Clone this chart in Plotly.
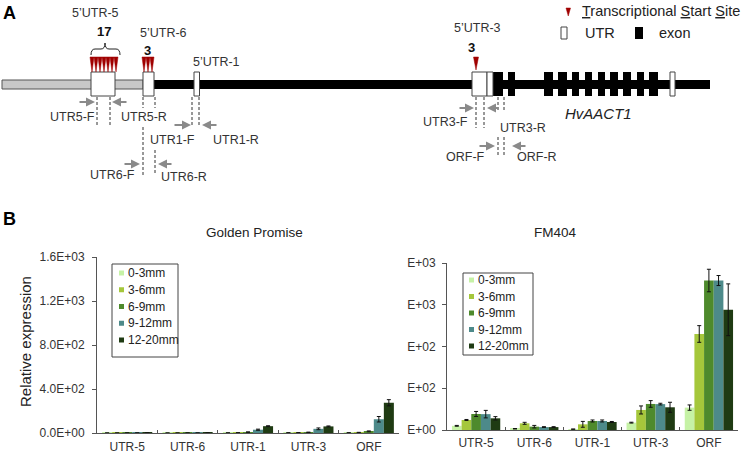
import plotly.graph_objects as go

FONT = "Liberation Sans, Arial, sans-serif"

# ---------------- Panel B data ----------------
categories = ["UTR-5", "UTR-6", "UTR-1", "UTR-3", "ORF"]
series_names = ["0-3mm", "3-6mm", "6-9mm", "9-12mm", "12-20mm"]
series_colors = ["#c6f2a6", "#a5c73b", "#4e8a2c", "#4d8a8a", "#1f3b13"]

# Golden Promise
gp_0_3 = [0.3, 0.2, 1, 2, 2]
gp_3_6 = [0.3, 0.3, 2, 3, 4]
gp_6_9 = [0.5, 0.4, 8, 6, 15]
gp_9_12 = [0.5, 0.3, 30, 38, 125]
gp_12_20 = [0.8, 0.5, 62, 60, 275]
gp_err_0_3 = [None, None, None, None, None]
gp_err_3_6 = [None, None, None, None, 2]
gp_err_6_9 = [None, None, 2, 2, 4]
gp_err_9_12 = [None, None, 5, 8, 25]
gp_err_12_20 = [None, None, 4, 4, 28]

# FM404
fm_0_3 = [50, 15, 10, 88, 268]
fm_3_6 = [120, 80, 68, 240, 1150]
fm_6_9 = [192, 40, 108, 312, 1790]
fm_9_12 = [190, 35, 108, 310, 1790]
fm_12_20 = [140, 35, 96, 272, 1440]
fm_err_0_3 = [5, 3, 2, 5, 32]
fm_err_3_6 = [6, 12, 35, 48, 100]
fm_err_6_9 = [30, 15, 12, 40, 135]
fm_err_9_12 = [45, 5, 12, 10, 60]
fm_err_12_20 = [20, 5, 6, 60, 310]

gp_yticks = [0, 400, 800, 1200, 1600]
gp_yticklabels = ["0.0E+00", "4.0E+02", "8.0E+02", "1.2E+03", "1.6E+03"]
fm_yticks = [0, 500, 1000, 1500, 2000]
fm_yticklabels = ["E+00", "E+02", "E+02", "E+03", "E+03"]

gp_series = [gp_0_3, gp_3_6, gp_6_9, gp_9_12, gp_12_20]
gp_errors = [gp_err_0_3, gp_err_3_6, gp_err_6_9, gp_err_9_12, gp_err_12_20]
fm_series = [fm_0_3, fm_3_6, fm_6_9, fm_9_12, fm_12_20]
fm_errors = [fm_err_0_3, fm_err_3_6, fm_err_6_9, fm_err_9_12, fm_err_12_20]

# ---------------- Panel A gene structure (diagram units) ----------------
upstream_gray = [2, 143]
gene_line = [154, 710]
line_y = [80, 89]
box_y = [72, 96]
utr_boxes = [[91, 115], [143, 154], [194, 199.5], [472, 487], [487, 493], [670, 675]]
exons = [[493, 503], [508, 515], [544, 553], [558, 567], [572, 579], [585, 592],
         [598, 605], [610, 618], [623, 631], [637, 644], [649, 658]]
# TSS clusters: (left x, number of sites, width of each, top y, tip y)
tss_clusters = [(90, 7, 4, 57, 72), (142, 3, 4, 57, 72), (473.5, 1, 5, 57, 70)]
utr_labels = [("5’UTR-5", 95, 13), ("5’UTR-6", 163, 33), ("5’UTR-1", 216, 62), ("5’UTR-3", 477, 28)]
tss_counts = [("17", 104, 31), ("3", 147, 50), ("3", 471.5, 47)]
# primers: (name, tail x, head x, arrow y, label x, label y)
primers = [
    ("UTR5-F", 78, 95, 102, 72, 117),
    ("UTR5-R", 128, 112, 102, 144, 117),
    ("UTR1-F", 173, 191, 125, 172, 140),
    ("UTR1-R", 218, 202, 125, 236, 140),
    ("UTR6-F", 123, 140, 164, 112, 175),
    ("UTR6-R", 173, 158, 164, 184, 177),
    ("UTR3-F", 458, 474, 108, 445, 122),
    ("UTR3-R", 500, 487, 108, 523, 128),
    ("ORF-F", 478, 495, 146, 465, 157),
    ("ORF-R", 527, 512, 146, 537, 157),
]
# dashed guide segments: (x, y0, y1)
dashed = [
    (97, 97, 127), (110, 97, 127),
    (143, 97, 108), (143, 127, 175), (155, 97, 108), (155, 150, 175),
    (192, 97, 127), (199, 97, 127),
    (476, 97, 128), (484, 97, 128),
    (498, 97, 110), (498, 137, 157), (504, 97, 110), (504, 137, 157),
]

fig = go.Figure()

# ---- bars ----
for i in range(5):
    fig.add_trace(go.Bar(
        x=categories, y=gp_series[i], name=series_names[i],
        marker=dict(color=series_colors[i], line=dict(width=0)),
        error_y=dict(type="data", array=gp_errors[i], visible=True,
                     color="#111", thickness=1, width=2),
        xaxis="x", yaxis="y", showlegend=False))
for i in range(5):
    fig.add_trace(go.Bar(
        x=categories, y=fm_series[i], name=series_names[i],
        marker=dict(color=series_colors[i], line=dict(width=0)),
        error_y=dict(type="data", array=fm_errors[i], visible=True,
                     color="#111", thickness=1, width=2),
        xaxis="x2", yaxis="y2", showlegend=False))

# dummy trace for the diagram frame
fig.add_trace(go.Scatter(x=[0], y=[0], xaxis="x3", yaxis="y3", mode="markers",
                         marker=dict(size=0.1, color="rgba(0,0,0,0)"),
                         showlegend=False, hoverinfo="skip"))

shapes = []
ann = []

def S(**kw):
    d = dict(xref="x3", yref="y3")
    d.update(kw)
    shapes.append(d)

def T(text, x, y, size=12.5, color="#333", xanchor="center", **kw):
    d = dict(xref="x3", yref="y3", x=x, y=y, text=text, showarrow=False,
             font=dict(family=FONT, size=size, color=color),
             xanchor=xanchor, yanchor="middle")
    d.update(kw)
    ann.append(d)

# gene line
S(type="rect", x0=upstream_gray[0], x1=upstream_gray[1], y0=line_y[0], y1=line_y[1],
  fillcolor="#c8c8c8", line=dict(color="#555", width=1))
S(type="rect", x0=gene_line[0], x1=gene_line[1], y0=line_y[0], y1=line_y[1],
  fillcolor="#000", line=dict(color="#000", width=0))
for a, b in exons:
    S(type="rect", x0=a, x1=b, y0=box_y[0], y1=box_y[1], fillcolor="#000",
      line=dict(color="#000", width=0))
for a, b in utr_boxes:
    S(type="rect", x0=a, x1=b, y0=box_y[0], y1=box_y[1], fillcolor="#fff",
      line=dict(color="#444", width=1))

# TSS triangles
for x0, n, w, ytop, ytip in tss_clusters:
    p = ""
    for k in range(n):
        xa = x0 + k * w
        p += f"M{xa},{ytop} L{xa + w},{ytop} L{xa + w / 2},{ytip} Z "
    S(type="path", path=p, fillcolor="#a00000", line=dict(color="#a00000", width=0.5))

# brace above 5'UTR-5
S(type="path",
  path="M91,55 Q91,49 95,49 L101,49 Q105,49 105,43 Q105,49 109,49 L116,49 Q120,49 120,55",
  line=dict(color="#222", width=1))

for txt, x, y in utr_labels:
    T(txt, x, y, size=12.5)
for txt, x, y in tss_counts:
    T(f"<b>{txt}</b>", x, y, size=13, color="#111")

# dashed lines
for x, y0, y1 in dashed:
    S(type="line", x0=x, x1=x, y0=y0, y1=y1, line=dict(color="#333", width=1, dash="3px,2px"))

# primer arrows + labels
for name, tail, head, ay, lx, ly in primers:
    ann.append(dict(xref="x3", yref="y3", axref="x3", ayref="y3", x=head, y=ay,
                    ax=tail, ay=ay, text="", showarrow=True, arrowhead=2,
                    arrowsize=0.9, arrowwidth=2, arrowcolor="#8a8a8a",
                    standoff=0, startstandoff=0))
    T(name, lx, ly, size=12.5, color="#333")

# gene name
T("<i>HvAACT1</i>", 598, 113, size=15, color="#222")

# top-right key
S(type="path", path="M566,8 L570.5,8 L568.25,16 Z", fillcolor="#a00000",
  line=dict(color="#a00000", width=0.5))
T("<u>T</u>ranscriptional <u>S</u>tart <u>S</u>ite", 580, 11, size=14.5, color="#222", xanchor="left")
S(type="rect", x0=561, x1=567, y0=27, y1=39, fillcolor="#fff", line=dict(color="#444", width=1))
T("UTR", 583, 33, size=14.5, color="#222", xanchor="left")
S(type="rect", x0=635, x1=643, y0=27, y1=39, fillcolor="#000", line=dict(color="#000", width=0))
T("exon", 657, 33, size=14.5, color="#222", xanchor="left")

# panel letters
T("<b>A</b>", 9, 13, size=18, color="#000")
T("<b>B</b>", 9, 219, size=18, color="#000")

# chart titles & axis title
T("Golden Promise", 254, 232, size=13.5, color="#222")
T("FM404", 555, 232, size=13.5, color="#222")
T("Relative expression", 25, 342, size=15, color="#222", textangle=-90)

# manual legends
def legend(box, y0, step, sq_x, tx):
    S(type="rect", x0=box[0], x1=box[1], y0=box[2], y1=box[3], fillcolor="#fff",
      line=dict(color="#444", width=1), layer="below")
    for k in range(5):
        yy = y0 + k * step
        S(type="rect", x0=sq_x, x1=sq_x + 5, y0=yy - 2.5, y1=yy + 2.5,
          fillcolor=series_colors[k], line=dict(width=0))
        T(series_names[k], tx, yy, size=12, color="#222", xanchor="left")

legend([112, 178, 264, 357], 273, 16.75, 119, 126)
legend([463, 533, 273, 355], 280, 16.5, 469, 476)

axis_common = dict(showline=True, linecolor="#555", linewidth=1, showgrid=False,
                   zeroline=False, fixedrange=True, automargin=False,
                   tickfont=dict(family=FONT, size=12, color="#333"))

fig.update_layout(
    template="none",
    width=742, height=453, margin=dict(l=0, r=0, t=0, b=0, pad=0, autoexpand=False),
    paper_bgcolor="white", plot_bgcolor="rgba(0,0,0,0)",
    barmode="group", bargap=0.17, bargroupgap=0, showlegend=False,
    font=dict(family=FONT, color="#333"),
    xaxis=dict(domain=[97 / 742, 399 / 742], anchor="y", type="category",
               ticks="inside", tickson="boundaries", ticklen=3, tickcolor="#555",
               ticklabelstandoff=3, **axis_common),
    yaxis=dict(domain=[1 - 433 / 453, 1 - 257 / 453], anchor="x", range=[0, 1600],
               tickvals=gp_yticks, ticktext=gp_yticklabels, ticks="outside",
               ticklen=4, tickcolor="#555", ticklabelstandoff=5, **axis_common),
    xaxis2=dict(domain=[447 / 742, 738 / 742], anchor="y2", type="category",
                ticks="inside", tickson="boundaries", ticklen=3, tickcolor="#555",
                ticklabelstandoff=2, **axis_common),
    yaxis2=dict(domain=[1 - 430 / 453, 1 - 263 / 453], anchor="x2", range=[0, 2000],
                tickvals=fm_yticks, ticktext=fm_yticklabels, ticks="outside",
                ticklen=4, tickcolor="#555", ticklabelstandoff=4, **axis_common),
    xaxis3=dict(domain=[0, 1], anchor="y3", range=[0, 742], visible=False,
                fixedrange=True, automargin=False),
    yaxis3=dict(domain=[0, 1], anchor="x3", range=[453, 0], visible=False,
                fixedrange=True, automargin=False),
    shapes=shapes, annotations=ann,
)

fig.write_html(
    "out.html",
    config={"displayModeBar": False},
    post_script="document.body.style.margin='0';document.body.style.padding='0';",
)
